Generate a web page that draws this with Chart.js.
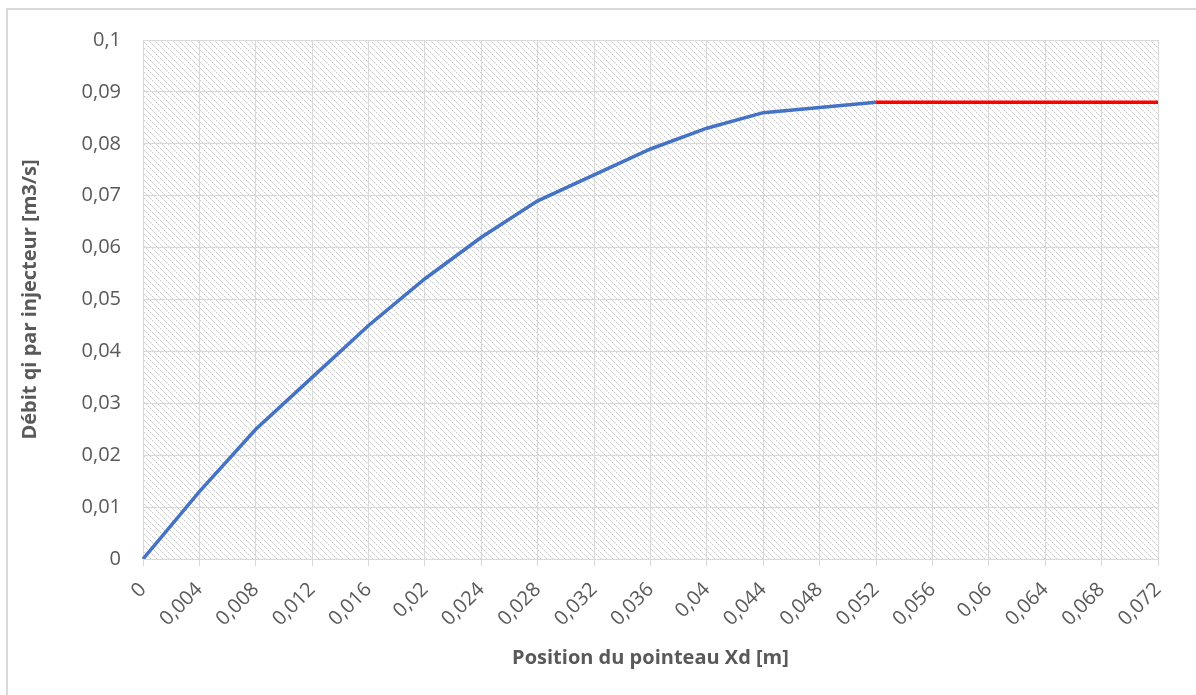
<!DOCTYPE html>
<html>
<head>
<meta charset="utf-8">
<script src="https://cdn.jsdelivr.net/npm/chart.js@4"></script>
<style>
  html, body { margin: 0; padding: 0; background: #fff; }
  #wrap { width: 1196px; height: 695px; position: relative; }
</style>
</head>
<body>
<div id="wrap"><canvas id="c" width="1196" height="695"></canvas></div>
<script>
// Categories: position of the needle Xd [m]
const positions = [0, 0.004, 0.008, 0.012, 0.016, 0.02, 0.024, 0.028, 0.032, 0.036, 0.04, 0.044, 0.048, 0.052, 0.056, 0.06, 0.064, 0.068, 0.072];
// Flow per injector qi [m3/s] (blue part)
const debitBleu = [0, 0.013, 0.025, 0.035, 0.045, 0.054, 0.062, 0.069, 0.074, 0.079, 0.083, 0.086, 0.087, 0.088, null, null, null, null, null];
// Saturated flow (red part)
const debitRouge = [null, null, null, null, null, null, null, null, null, null, null, null, null, 0.088, 0.088, 0.088, 0.088, 0.088, 0.088];

const yMin = 0, yMax = 0.1, yStep = 0.01;
const xTitle = 'Position du pointeau Xd [m]';
const yTitle = 'Débit qi par injecteur [m3/s]';

function fmt(v) {
  if (v === 0) return '0';
  return String(Number(v.toFixed(4))).replace('.', ',');
}

const FONT = "'Open Sans', 'Noto Sans', sans-serif";
const TXT = '#595959';
const GRID = '#d9d9d9';

function makePattern(ctx) {
  const p = document.createElement('canvas');
  p.width = 6; p.height = 6;
  const g = p.getContext('2d');
  g.fillStyle = '#ffffff';
  g.fillRect(0, 0, 6, 6);
  for (let i = 0; i < 6; i++) {
    g.fillStyle = (i % 2 === 0) ? '#cbcbcb' : '#e3e3e3';
    g.fillRect(i, i, 1, 1);
  }
  return ctx.createPattern(p, 'repeat');
}

const bgPlugin = {
  id: 'bg',
  beforeDraw(chart) {
    const ctx = chart.ctx;
    const a = chart.chartArea;
    ctx.save();
    ctx.fillStyle = '#ffffff';
    ctx.fillRect(0, 0, chart.width, chart.height);
    ctx.strokeStyle = '#d9d9d9';
    ctx.lineWidth = 2;
    ctx.strokeRect(7, 9, chart.width + 20, chart.height + 20);
    ctx.fillStyle = makePattern(ctx);
    ctx.fillRect(a.left, a.top, a.right - a.left, a.bottom - a.top);
    ctx.restore();
  }
};

new Chart(document.getElementById('c'), {
  type: 'line',
  data: {
    labels: positions.map(fmt),
    datasets: [
      { data: debitBleu, borderColor: '#4472c4', borderWidth: 3.5, pointRadius: 0, tension: 0, spanGaps: false },
      { data: debitRouge, borderColor: '#ff0000', borderWidth: 3.5, pointRadius: 0, tension: 0, spanGaps: false }
    ]
  },
  options: {
    responsive: false,
    animation: false,
    devicePixelRatio: 1,
    layout: { padding: { left: 10, right: 38, top: 40, bottom: 0 } },
    plugins: { legend: { display: false }, tooltip: { enabled: false } },
    scales: {
      x: {
        type: 'category',
        offset: false,
        grid: { color: GRID, lineWidth: 1, drawTicks: true, tickLength: 7, tickColor: GRID },
        border: { color: GRID },
        ticks: { color: TXT, font: { family: FONT, size: 20 }, minRotation: 45, maxRotation: 45, autoSkip: false, padding: 12 },
        title: { display: true, text: xTitle, color: TXT, font: { family: FONT, size: 20, weight: 'bold' }, padding: { top: 4, bottom: 25 } },
        afterFit(s) { s.height = 136; }
      },
      y: {
        min: yMin, max: yMax,
        grid: { color: GRID, lineWidth: 1, drawTicks: false },
        border: { color: GRID },
        ticks: { stepSize: yStep, color: TXT, font: { family: FONT, size: 20 }, padding: 22, callback: (v) => fmt(v) },
        title: { display: true, text: yTitle, color: TXT, font: { family: FONT, size: 20, weight: 'bold' }, padding: { top: 8, bottom: 0 } },
        afterFit(s) { s.width = 133; }
      }
    }
  },
  plugins: [bgPlugin]
});
</script>
</body>
</html>
